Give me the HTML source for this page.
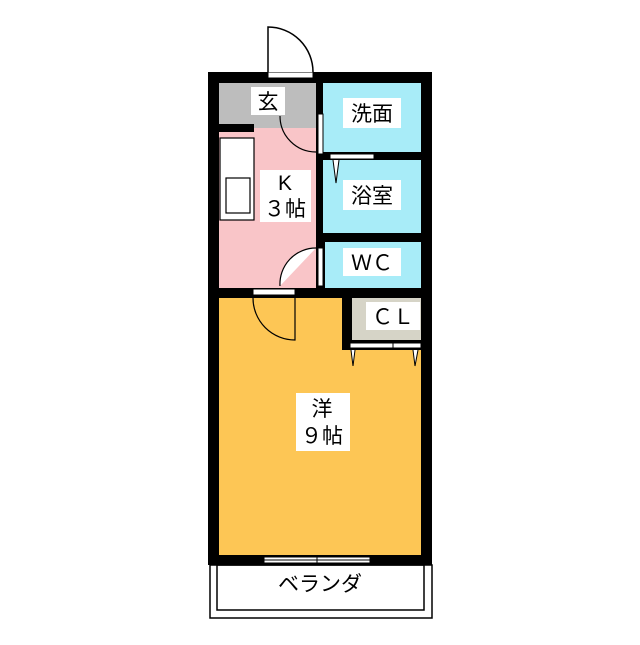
<!DOCTYPE html><html><head><style>body{margin:0;background:#fff}svg text{font-family:"Liberation Sans","Noto Sans CJK JP",sans-serif;font-size:21px;text-anchor:middle;fill:#000}</style></head><body>
<svg width="640" height="640" viewBox="0 0 640 640" xmlns="http://www.w3.org/2000/svg">
<rect x="210" y="565" width="222" height="53" fill="#fff" stroke="#000" stroke-width="1.5"/>
<rect x="217" y="565" width="207" height="45" fill="none" stroke="#000" stroke-width="1.5"/>
<rect x="208" y="72" width="224" height="493" fill="#000"/>
<rect x="219" y="83" width="97" height="45" fill="#bdbdbd"/>
<rect x="219" y="128" width="97" height="160" fill="#f9c5c8"/>
<rect x="219" y="124" width="35" height="8" fill="#000"/>
<rect x="323" y="83" width="98" height="69" fill="#a8ecf8"/>
<rect x="323" y="160" width="98" height="73" fill="#a8ecf8"/>
<rect x="325" y="242" width="96" height="46" fill="#a8ecf8"/>
<rect x="219" y="298" width="202" height="257" fill="#fdc655"/>
<rect x="352" y="298" width="69" height="42" fill="#d6d4c7"/>
<rect x="342" y="297" width="10" height="53" fill="#000"/>
<rect x="342" y="340" width="79" height="10" fill="#000"/>
<rect x="220" y="138" width="34" height="82" fill="#fff" stroke="#000" stroke-width="1.2"/>
<rect x="226" y="178" width="24" height="35" fill="#fff" stroke="#000" stroke-width="1.2"/>
<rect x="268" y="72" width="45" height="6" fill="#fff" stroke="#000"/>
<path d="M268 72 V27 A45 45 0 0 1 313 72" fill="#fff" stroke="#000" stroke-width="1.5"/>
<rect x="318" y="114" width="5" height="40" fill="#fff" stroke="#000"/>
<path d="M280 116 A36 36 0 0 0 316 152" fill="none" stroke="#000" stroke-width="1.2"/>
<rect x="330" y="154" width="44" height="5" fill="#fff" stroke="#000"/>
<path d="M333 160 L336 183 L339 160" fill="#fff" stroke="#000"/>
<rect x="318" y="248" width="5" height="38" fill="#fff" stroke="#000"/>
<path d="M280 286 A36 36 0 0 1 316 248" fill="#fff" stroke="#000" stroke-width="1.2"/>
<rect x="253" y="289" width="42" height="6" fill="#fff" stroke="#000"/>
<path d="M253 298 A42 42 0 0 0 295 340 V298" fill="none" stroke="#000" stroke-width="1.2"/>
<rect x="350" y="343" width="71" height="5" fill="#fff" stroke="#000"/>
<line x1="393" y1="343" x2="393" y2="348" stroke="#000"/>
<path d="M351 350 L353 366 L355 350" fill="#fff" stroke="#000"/>
<path d="M413 350 L415 366 L418 350" fill="#fff" stroke="#000"/>
<rect x="264" y="557" width="106" height="6" fill="#fff" stroke="#000"/>
<line x1="264" y1="560" x2="370" y2="560" stroke="#000"/>
<line x1="317" y1="555" x2="317" y2="565" stroke="#000"/>
<rect x="251" y="87" width="34" height="28" fill="#fff"/><text x="268" y="109">玄</text>
<rect x="343" y="98" width="58" height="30" fill="#fff"/><text x="372" y="121">洗面</text>
<rect x="260" y="170" width="51" height="52" fill="#fff"/><text x="285" y="190">K</text><text x="285" y="216">３帖</text>
<rect x="343" y="180" width="58" height="30" fill="#fff"/><text x="372" y="203">浴室</text>
<rect x="343" y="248" width="58" height="28" fill="#fff"/><text x="372" y="270">ＷＣ</text>
<rect x="366" y="302" width="54" height="28" fill="#fff"/><text x="393" y="324">ＣＬ</text>
<rect x="296" y="393" width="54" height="58" fill="#fff"/><text x="322" y="416">洋</text><text x="322" y="443">９帖</text>
<text x="320" y="591">ベランダ</text>
</svg></body></html>
